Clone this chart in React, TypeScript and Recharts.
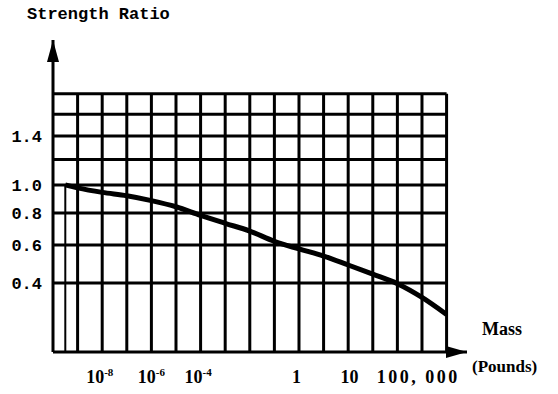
import { LineChart, Line, XAxis, YAxis, ReferenceLine, ReferenceDot } from 'recharts'

// curve (x = grid column, y = strength ratio)
const massCol = [0.5, 1, 2, 3, 4, 5, 6, 7, 8, 9, 10, 11, 12, 13, 14, 15, 16]
const strengthRatio = [1.0, 0.978, 0.945, 0.921, 0.886, 0.843, 0.785, 0.733, 0.684, 0.622, 0.578, 0.538, 0.49, 0.443, 0.397, 0.335, 0.265]

const xTickPos = [1.9, 4, 5.9, 9.9, 12.05, 14.85]
const xTickBase = ['10', '10', '10', '1', '10', '100, 000']
const xTickExp = ['-8', '-6', '-4', '', '', '']

const yTicks = [0.4, 0.6, 0.8, 1.0, 1.4]
const yLabels = ['0.4', '0.6', '0.8', '1.0', '1.4']

const gridCols = [1, 2, 3, 4, 5, 6, 7, 8, 9, 10, 11, 12, 13, 14, 15, 16]
const gridRows = [0.4, 0.6, 0.8, 1.0, 1.2, 1.4, 1.6, 1.8]

const X_MAX = 16.83
const Y_MIN = 0.14
const Y_MAX = 2.38
const GRID_RIGHT = 16
const GRID_TOP = 1.8

const data = massCol.map((x, i) => ({ x, r: strengthRatio[i] }))

const serif = '"Liberation Serif", "DejaVu Serif", serif'
const mono = '"Liberation Mono", "DejaVu Sans Mono", monospace'

const XTick = (props: any) => {
  const { x, y, index } = props
  const exp = xTickExp[index]
  return (
    <text x={x} y={y} textAnchor="middle" dy="0.71em" fill="#000" fontFamily={serif} fontWeight="bold" fontSize={18} letterSpacing={index === 5 ? 2.5 : 0}>
      {xTickBase[index]}
      {exp && <tspan fontSize={11} dy={-7}>{exp}</tspan>}
    </text>
  )
}

const UpArrow = (props: any) => {
  const { cx, cy } = props
  return <path d={`M${cx},${cy} L${cx - 6},${cy + 22} L${cx + 6},${cy + 22} Z`} fill="#000" />
}

const RightArrow = (props: any) => {
  const { cx, cy } = props
  return <path d={`M${cx},${cy} L${cx - 21},${cy - 6} L${cx - 21},${cy + 6} Z`} fill="#000" />
}

export default function App() {
  return (
    <div style={{ position: 'absolute', left: 0, top: 0, width: 558, height: 394, background: '#fff' }}>
      <div style={{ position: 'absolute', left: 27, top: 6, fontFamily: mono, fontWeight: 'bold', fontSize: 17, lineHeight: 1, color: '#000' }}>
        Strength Ratio
      </div>
      <div style={{ position: 'absolute', left: 482, top: 320, fontFamily: serif, fontWeight: 'bold', fontSize: 18, lineHeight: 1, color: '#000' }}>
        Mass
      </div>
      <div style={{ position: 'absolute', left: 472, top: 358, fontFamily: serif, fontWeight: 'bold', fontSize: 17, lineHeight: 1, color: '#000' }}>
        (Pounds)
      </div>
      <LineChart width={558} height={394} data={data} margin={{ top: 40, right: 91, left: 0, bottom: 12 }}>
        <XAxis
          dataKey="x"
          type="number"
          domain={[0, X_MAX]}
          allowDataOverflow
          ticks={xTickPos}
          tick={<XTick />}
          tickLine={false}
          tickSize={0}
          tickMargin={18}
          height={30}
          axisLine={{ stroke: '#000', strokeWidth: 3 }}
          interval={0}
        />
        <YAxis
          type="number"
          scale="sqrt"
          domain={[Y_MIN, Y_MAX]}
          allowDataOverflow
          ticks={yTicks}
          tickFormatter={(v: number) => yLabels[yTicks.indexOf(v)] ?? ''}
          tick={{ fill: '#000', fontFamily: mono, fontWeight: 'bold', fontSize: 17 }}
          tickLine={false}
          tickSize={0}
          tickMargin={11}
          width={53}
          axisLine={{ stroke: '#000', strokeWidth: 3 }}
          interval={0}
        />
        {gridRows.map(r => (
          <ReferenceLine key={'r' + r} segment={[{ x: 0, y: r }, { x: GRID_RIGHT, y: r }]} stroke="#000" strokeWidth={3} />
        ))}
        {gridCols.map(c => (
          <ReferenceLine key={'c' + c} segment={[{ x: c, y: Y_MIN }, { x: c, y: GRID_TOP }]} stroke="#000" strokeWidth={3} />
        ))}
        <ReferenceLine segment={[{ x: massCol[0], y: strengthRatio[0] }, { x: massCol[0], y: Y_MIN }]} stroke="#000" strokeWidth={2} />
        <Line type="monotone" dataKey="r" stroke="#000" strokeWidth={5} dot={false} isAnimationActive={false} />
        <ReferenceDot x={0} y={Y_MAX} ifOverflow="visible" shape={UpArrow} />
        <ReferenceDot x={X_MAX} y={Y_MIN} ifOverflow="visible" shape={RightArrow} />
      </LineChart>
    </div>
  )
}
